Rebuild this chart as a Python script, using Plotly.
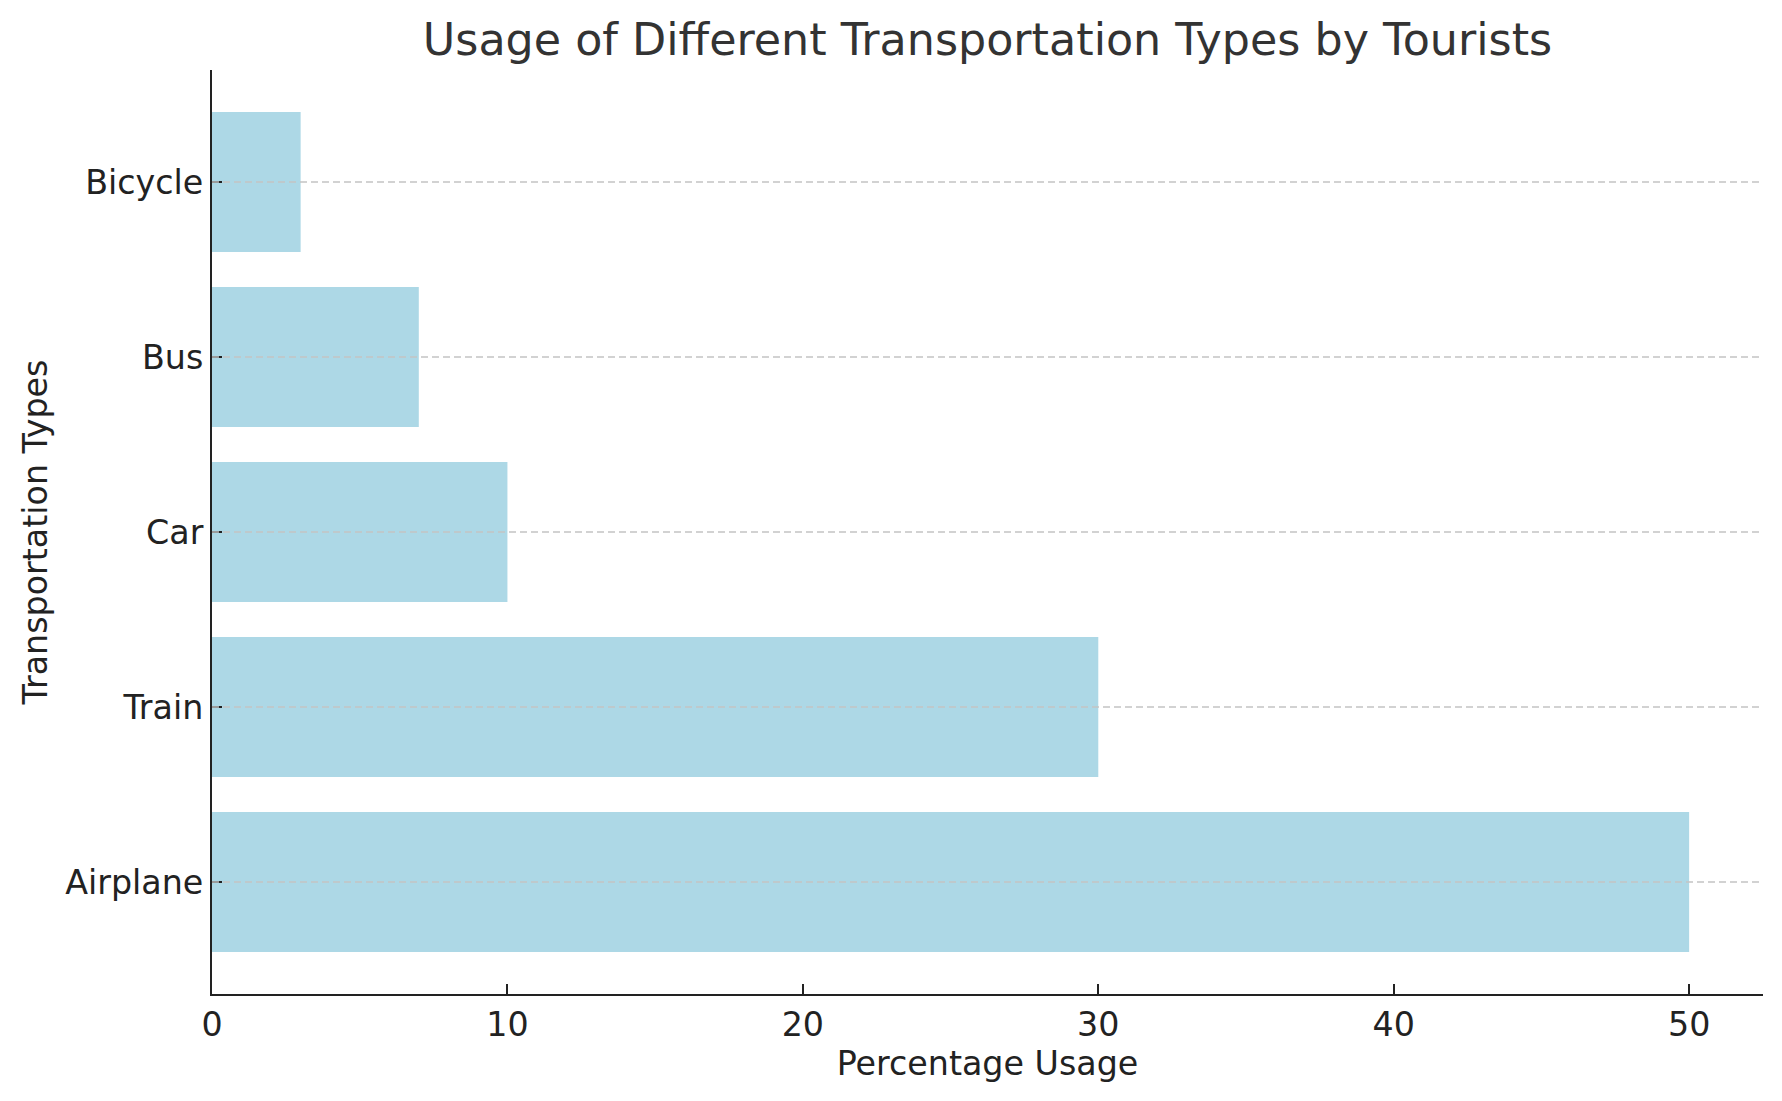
import plotly.graph_objects as go

categories = ["Airplane", "Train", "Car", "Bus", "Bicycle"]
usage = [50, 30, 10, 7, 3]
x_ticks = [0, 10, 20, 30, 40, 50]

fig = go.Figure()
fig.add_trace(go.Bar(
    x=usage, y=categories, orientation="h",
    marker=dict(color="#ADD8E6", line=dict(width=0)),
    width=0.8,
))

# dashed horizontal grid lines drawn above the bars (as in the reference)
for c in categories:
    fig.add_shape(type="line", xref="x domain", x0=0, x1=1, yref="y", y0=c, y1=c,
                  line=dict(color="#c4c4c4", width=1.5, dash="7px,4px"), layer="above")

fig.update_layout(
    width=1782, height=1101,
    margin=dict(l=212, r=19, t=70, b=107),
    paper_bgcolor="white", plot_bgcolor="white",
    font=dict(family="DejaVu Sans", color="#222222", size=33),
    title=dict(text="Usage of Different Transportation Types by Tourists",
               x=(212 + 1763) / 2 / 1782, xanchor="center", y=1 - 39 / 1101, yanchor="middle",
               font=dict(size=44.4, color="#333333")),
    showlegend=False,
    bargap=0.2,
)
fig.update_xaxes(
    range=[0, 52.5], tickvals=x_ticks, ticktext=[str(v) for v in x_ticks],
    showgrid=False, zeroline=False,
    showline=True, linecolor="#222222", linewidth=2,
    ticks="inside", ticklen=10, tickwidth=2, tickcolor="#222222",
    tickfont=dict(size=33.3, color="#222222"),
    title=dict(text="Percentage Usage", font=dict(size=33.3, color="#222222"), standoff=9),
)
fig.update_yaxes(
    type="category", categoryorder="array", categoryarray=categories,
    range=[-0.64, 4.64],
    showgrid=False, zeroline=False,
    showline=True, linecolor="#222222", linewidth=2,
    ticks="inside", ticklen=10, tickwidth=2, tickcolor="#222222",
    tickfont=dict(size=33.3, color="#222222"),
    title=dict(text="Transportation Types", font=dict(size=33.3, color="#222222"), standoff=8),
)

fig.write_html("out.html")
